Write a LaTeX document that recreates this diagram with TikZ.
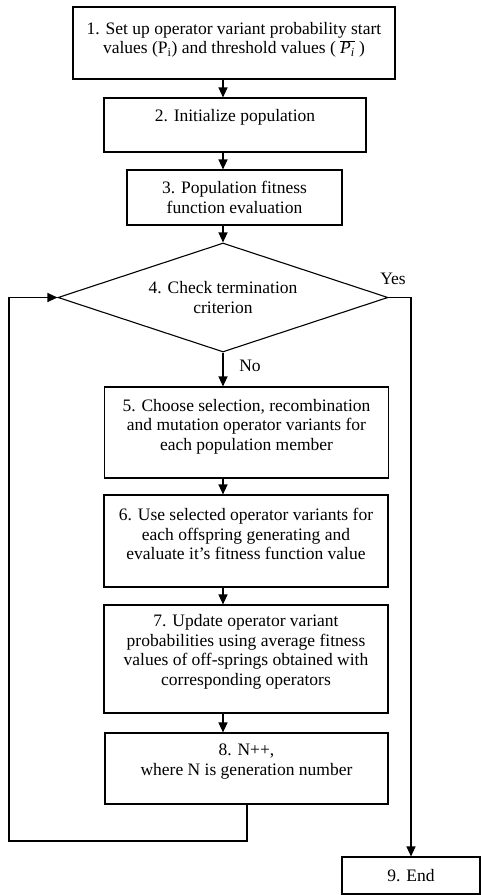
\documentclass[tikz,border=0pt]{standalone}
\usepackage{fontspec}
\setmainfont{Liberation Serif}
\usetikzlibrary{shapes.geometric,arrows.meta}

\begin{document}
\begin{tikzpicture}[x=1pt,y=-1pt,
	font=\fontsize{17.5}{19.5}\selectfont,
	stepbox/.style={shape=rectangle,draw=black,line width=1.1pt,inner sep=0pt},
	steptext/.style={align=center},
	flow/.style={-{Triangle[length=10pt,width=9pt]},line width=1.1pt}]
	
	\useasboundingbox (0,0) rectangle (481,895);
	
	\node[stepbox,minimum width=322pt,minimum height=72pt,
		label={[steptext,yshift=3pt]center:1. Set up operator variant probability start\\values (P\textsubscript{i}) and threshold values ( \ensuremath{\overline{\hbox{\itshape P\textsubscript{i}}}} )}] (b1) at (234, 43) {};
	\node[stepbox,minimum width=262pt,minimum height=54pt,
		label={[steptext,yshift=8pt]center:2. Initialize population}] (b2) at (235, 125) {};
	\node[stepbox,minimum width=215pt,minimum height=55pt,
		label={[steptext]center:3. Population fitness\\function evaluation}] (b3) at (234.5, 197.5) {};
	\node[shape=diamond,draw=black,line width=1.1pt,aspect=3,inner sep=0pt,
		minimum width=330pt,minimum height=109pt,align=center] (d4) at (223, 297.5) {4. Check termination\\criterion};
	\node[stepbox,minimum width=284pt,minimum height=91pt,
		label={[steptext,yshift=6pt]center:5. Choose selection, recombination\\and mutation operator variants for\\each population member}] (b5) at (246.5, 432.5) {};
	\node[stepbox,minimum width=284pt,minimum height=92pt,
		label={[steptext,yshift=7pt]center:6. Use selected operator variants for\\each offspring generating and\\evaluate it’s fitness function value}] (b6) at (246, 541) {};
	\node[stepbox,minimum width=284pt,minimum height=108pt,
		label={[steptext,yshift=7pt]center:7. Update operator variant\\probabilities using average fitness\\values of off-springs obtained with\\corresponding operators}] (b7) at (246, 659) {};
	\node[stepbox,minimum width=283pt,minimum height=71pt,
		label={[steptext,yshift=7pt]center:8. N++,\\where N is generation number}] (b8) at (246.5, 768.5) {};
	\node[stepbox,minimum width=138pt,minimum height=37pt] (b9) at (411, 875.5) {9. End};
	
	\node (yes) at (393, 279) {Yes};
	\node (no) at (250, 366) {No};
	
	\coordinate (drop) at (247, 841);
	\coordinate (back) at (9, 841);
	
	\path[flow] (b1.south -| d4) edge (b2.north -| d4);
	\path[flow] (b2.south -| d4) edge (b3.north -| d4);
	\path[flow] (b3.south -| d4) edge (d4.north);
	\path[flow] (d4.south) edge (b5.north -| d4);
	\path[flow] (b5.south -| d4) edge (b6.north -| d4);
	\path[flow] (b6.south -| d4) edge (b7.north -| d4);
	\path[flow] (b7.south -| d4) edge (b8.north -| d4);
	\draw[flow] (b8.south -| drop) -- (drop) -- (back) |- (d4.west);
	\draw[flow] (d4.east) -| (b9.north);

\end{tikzpicture}
\end{document}
